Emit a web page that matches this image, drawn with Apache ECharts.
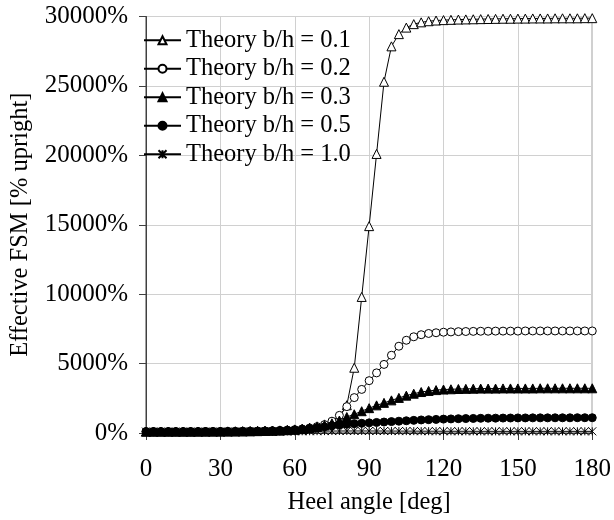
<!DOCTYPE html>
<html>
<head>
<meta charset="utf-8">
<script src="https://cdn.jsdelivr.net/npm/echarts@6/dist/echarts.min.js"></script>
<style>
  html, body { margin: 0; padding: 0; background: #fff; }
  #chart { width: 614px; height: 520px; }
</style>
</head>
<body>
<div id="chart"></div>
<script>
// heel angle [deg]
var angles = [0, 3, 6, 9, 12, 15, 18, 21, 24, 27, 30, 33, 36, 39, 42, 45, 48, 51, 54, 57,
  60, 63, 66, 69, 72, 75, 78, 81, 84, 87, 90, 93, 96, 99, 102, 105, 108, 111, 114, 117,
  120, 123, 126, 129, 132, 135, 138, 141, 144, 147, 150, 153, 156, 159, 162, 165, 168, 171, 174, 177, 180]

// effective FSM [% upright]
var bh01 = [100, 100, 100, 100, 100, 100, 100, 102, 104, 106, 108, 112, 116, 122, 130, 140, 152, 168, 190, 220,
  260, 310, 380, 480, 620, 820, 1150, 2000, 4700, 9800, 14900, 20100, 25300, 27850, 28730, 29200, 29450, 29580, 29660, 29710,
  29740, 29760, 29780, 29790, 29800, 29810, 29820, 29830, 29840, 29840, 29850, 29850, 29860, 29860, 29860, 29870, 29870, 29870, 29870, 29880, 29880]
var bh02 = [100, 100, 100, 100, 100, 100, 100, 102, 104, 106, 108, 112, 116, 121, 128, 137, 148, 162, 180, 205,
  240, 290, 360, 460, 600, 850, 1270, 1900, 2550, 3140, 3770, 4330, 4940, 5600, 6250, 6680, 6930, 7080, 7170, 7220,
  7260, 7280, 7300, 7310, 7320, 7330, 7330, 7340, 7340, 7340, 7340, 7350, 7350, 7350, 7350, 7350, 7350, 7350, 7350, 7350, 7350]
var bh03 = [100, 100, 100, 100, 100, 100, 100, 102, 104, 106, 108, 112, 116, 121, 128, 136, 146, 160, 178, 200,
  230, 275, 340, 430, 550, 700, 900, 1150, 1350, 1570, 1790, 1990, 2170, 2350, 2530, 2690, 2830, 2950, 3030, 3090,
  3130, 3150, 3170, 3180, 3190, 3200, 3200, 3200, 3210, 3210, 3210, 3210, 3210, 3220, 3220, 3220, 3220, 3220, 3220, 3220, 3220]
var bh05 = [100, 100, 100, 100, 100, 100, 100, 102, 104, 106, 108, 111, 115, 120, 126, 134, 144, 157, 173, 193,
  220, 260, 310, 380, 450, 520, 580, 630, 670, 700, 730, 760, 790, 820, 850, 880, 910, 940, 960, 980,
  1000, 1015, 1030, 1040, 1050, 1060, 1065, 1070, 1075, 1080, 1085, 1085, 1090, 1090, 1090, 1095, 1095, 1095, 1100, 1100, 1100]
var bh10 = [100, 100, 100, 100, 100, 100, 100, 100, 100, 100, 100, 101, 102, 103, 104, 106, 108, 110, 113, 116,
  120, 124, 128, 132, 136, 140, 143, 145, 146, 146, 145, 144, 142, 140, 138, 136, 134, 132, 130, 128,
  127, 126, 125, 124, 123, 122, 121, 120, 120, 120, 120, 120, 120, 120, 120, 120, 120, 120, 120, 120, 120]

var names = ['Theory b/h = 0.1', 'Theory b/h = 0.2', 'Theory b/h = 0.3', 'Theory b/h = 0.5', 'Theory b/h = 1.0']
var font = 'Liberation Serif'
var asterisk = 'path://M0,0L10,10M10,0L0,10M5,0L5,10'

function pairs(ys) {
  return angles.map(function (a, i) { return [a, ys[i]] })
}

function makeSeries(name, ys, symbol, fill, size) {
  return {
    name: name,
    type: 'line',
    data: pairs(ys),
    symbol: symbol,
    symbolSize: size,
    showAllSymbol: true,
    lineStyle: { color: '#000', width: 1 },
    itemStyle: { color: fill, borderColor: '#000', borderWidth: 1 },
    emphasis: { disabled: true }
  }
}

var chart = echarts.init(document.getElementById('chart'), null, { renderer: 'canvas' })
chart.setOption({
  animation: false,
  backgroundColor: '#fff',
  textStyle: { fontFamily: font, color: '#000' },
  grid: {
    left: 143.5, right: 21, top: 16.5, bottom: 77,
    show: true, borderColor: '#404040', borderWidth: 1
  },
  legend: {
    orient: 'vertical',
    left: 143, top: 26,
    padding: 0,
    itemWidth: 37, itemHeight: 10, itemGap: 0,
    data: names,
    textStyle: { fontFamily: font, fontSize: 24.5, color: '#000', lineHeight: 28.5 }
  },
  xAxis: {
    type: 'value',
    min: 0, max: 180, interval: 30,
    name: 'Heel angle [deg]',
    nameLocation: 'middle',
    nameGap: 57,
    nameTextStyle: { fontFamily: font, fontSize: 24.5, color: '#000' },
    axisLine: { show: true, onZero: false, lineStyle: { color: '#404040' } },
    axisTick: { show: true, inside: false, length: 7, lineStyle: { color: '#404040' } },
    axisLabel: { margin: 24, fontFamily: font, fontSize: 25, color: '#000' },
    splitLine: { show: true, lineStyle: { color: '#d0d0d0', width: 1 } }
  },
  yAxis: {
    type: 'value',
    min: 0, max: 30000, interval: 5000,
    name: 'Effective FSM [% upright]',
    nameLocation: 'middle',
    nameGap: 113,
    nameTextStyle: { fontFamily: font, fontSize: 24.5, color: '#000' },
    axisLine: { show: true, lineStyle: { color: '#404040' } },
    axisTick: { show: true, inside: false, length: 7, lineStyle: { color: '#404040' } },
    axisLabel: {
      margin: 18, fontFamily: font, fontSize: 25, color: '#000',
      formatter: function (v) { return v + '%' }
    },
    splitLine: { show: true, lineStyle: { color: '#d0d0d0', width: 1 } }
  },
  series: [
    makeSeries(names[0], bh01, 'triangle', '#fff', 9),
    makeSeries(names[1], bh02, 'circle', '#fff', 8),
    makeSeries(names[2], bh03, 'triangle', '#000', 9),
    makeSeries(names[3], bh05, 'circle', '#000', 8),
    makeSeries(names[4], bh10, asterisk, 'none', 8)
  ]
})
</script>
</body>
</html>
